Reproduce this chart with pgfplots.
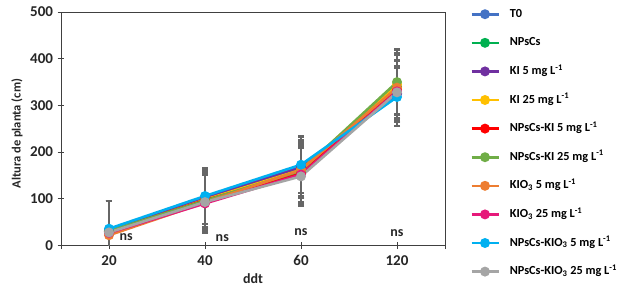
\documentclass[border=0pt]{standalone}
\usepackage{pgfplots}
\pgfplotsset{compat=1.18}
\usepackage{fontspec}
\setmainfont{Carlito}
\definecolor{cT}{HTML}{4472C4}
\definecolor{cN}{HTML}{00B050}
\definecolor{cK5}{HTML}{7030A0}
\definecolor{cK25}{HTML}{FFC000}
\definecolor{cNK5}{HTML}{FF0000}
\definecolor{cNK25}{HTML}{70AD47}
\definecolor{cO5}{HTML}{ED7D31}
\definecolor{cO25}{HTML}{E6197A}
\definecolor{cNO5}{HTML}{00B0F0}
\definecolor{cNO25}{HTML}{A5A5A5}
\definecolor{errc}{HTML}{666666}
\begin{document}
\begin{tikzpicture}
\begin{axis}[
  scale only axis, width=384pt, height=233.5pt,
  xmin=-0.5, xmax=3.5, ymin=0, ymax=500,
  ytick={0,100,200,300,400,500},
  xtick={-0.5,0,1,2,3,3.5},
  xticklabels={,20,40,60,120,},
  xtick pos=bottom, ytick pos=left,
  tick align=center, major tick length=7pt,
  axis line style={black!75, line width=0.8pt},
  every tick/.style={black!75, line width=0.8pt},
  /pgf/number format/assume math mode=true,
  tick label style={font=\fontsize{15}{17}\selectfont\bfseries, black!85},
  xticklabel style={yshift=-3pt},
  yticklabel style={xshift=-1pt},
  xlabel={ddt}, ylabel={Altura de planta (cm)},
  xlabel style={font=\fontsize{14}{16}\selectfont\bfseries, black!85, at={(axis description cs:0.5,0)}, anchor=center, yshift=-33pt},
  ylabel style={font=\fontsize{12.5}{14}\selectfont\bfseries, black!85, at={(axis description cs:0,0.5)}, anchor=center, yshift=44pt, xshift=-5pt},
  clip=true,
  every axis plot/.append style={line width=2.6pt, mark=*, mark size=3.6pt,
    error bars/y dir=both, error bars/y explicit,
    error bars/error bar style={errc, line width=1.3pt},
    error bars/error mark options={rotate=90, errc, line width=2.4pt, mark size=3pt}},
  legend cell align=left,
  legend style={at={(1,1)}, anchor=north west, xshift=22pt, yshift=7pt, draw=none, fill=none,
    font=\fontsize{12.3}{14}\selectfont\bfseries, row sep=14.6pt,
    nodes={inner sep=1pt, text height=9pt, text depth=3pt},
    /tikz/every odd column/.style={column sep=9pt}},
  legend image code/.code={\draw[mark repeat=2,mark phase=2] plot coordinates {(0pt,0pt)(13.5pt,0pt)(27pt,0pt)};},
]
\addplot[cT, mark options={fill=cT}] coordinates {(0,32) +- (0,63) (1,100) +- (0,60) (2,165) +- (0,60) (3,325) +- (0,58)};
\addlegendentry{T0}
\addplot[cN, mark options={fill=cN}] coordinates {(0,30) +- (0,65) (1,100) +- (0,62) (2,163) +- (0,58) (3,340) +- (0,72)};
\addlegendentry{NPsCs}
\addplot[cK5, mark options={fill=cK5}] coordinates {(0,33) +- (0,62) (1,102) +- (0,62) (2,168) +- (0,64) (3,325) +- (0,60)};
\addlegendentry{KI 5 mg L\textsuperscript{-1}}
\addplot[cK25, mark options={fill=cK25}] coordinates {(0,28) +- (0,67) (1,98) +- (0,62) (2,162) +- (0,60) (3,345) +- (0,64)};
\addlegendentry{KI 25 mg L\textsuperscript{-1}}
\addplot[cNK5, mark options={fill=cNK5}] coordinates {(0,30) +- (0,65) (1,97) +- (0,60) (2,155) +- (0,62) (3,335) +- (0,62)};
\addlegendentry{NPsCs-KI 5 mg L\textsuperscript{-1}}
\addplot[cNK25, mark options={fill=cNK25}] coordinates {(0,31) +- (0,64) (1,96) +- (0,62) (2,160) +- (0,58) (3,350) +- (0,70)};
\addlegendentry{NPsCs-KI 25 mg L\textsuperscript{-1}}
\addplot[cO5, mark options={fill=cO5}] coordinates {(0,22) +- (0,73) (1,92) +- (0,62) (2,162) +- (0,60) (3,338) +- (0,58)};
\addlegendentry{KIO\textsubscript{3} 5 mg L\textsuperscript{-1}}
\addplot[cO25, mark options={fill=cO25}] coordinates {(0,27) +- (0,68) (1,90) +- (0,62) (2,152) +- (0,64) (3,330) +- (0,65)};
\addlegendentry{KIO\textsubscript{3} 25 mg L\textsuperscript{-1}}
\addplot[cNO5, mark options={fill=cNO5}] coordinates {(0,36) +- (0,59) (1,106) +- (0,60) (2,173) +- (0,60) (3,318) +- (0,62)};
\addlegendentry{NPsCs-KIO\textsubscript{3} 5 mg L\textsuperscript{-1}}
\addplot[cNO25, mark options={fill=cNO25}] coordinates {(0,28) +- (0,67) (1,93) +- (0,63) (2,148) +- (0,62) (3,328) +- (0,55)};
\addlegendentry{NPsCs-KIO\textsubscript{3} 25 mg L\textsuperscript{-1}}
\node[font=\fontsize{14}{16}\selectfont\bfseries, black!85] at (axis cs:0.18,17) {ns};
\node[font=\fontsize{14}{16}\selectfont\bfseries, black!85] at (axis cs:1.18,15) {ns};
\node[font=\fontsize{14}{16}\selectfont\bfseries, black!85] at (axis cs:2,28) {ns};
\node[font=\fontsize{14}{16}\selectfont\bfseries, black!85] at (axis cs:3,26) {ns};
\end{axis}
\pgfresetboundingbox
\useasboundingbox (-61pt,-41.5pt) rectangle (562pt,245.5pt);
\end{tikzpicture}
\end{document}
